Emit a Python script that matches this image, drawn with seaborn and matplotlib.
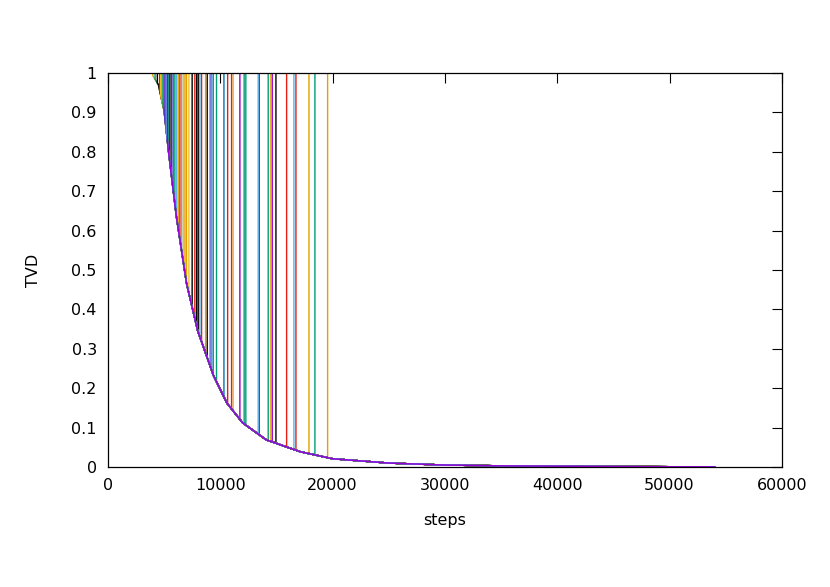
import matplotlib
matplotlib.use("Agg")
import matplotlib.pyplot as plt
import matplotlib.ticker as mticker
import numpy as np
import pandas as pd
import seaborn as sns

# shared decay curve that every run falls onto
curve_steps = [0, 2000, 3000, 3500, 4000, 4500, 4800, 5000, 5400, 6100, 7000,
               8000, 8500, 9400, 10600, 12000, 14100, 17100, 20000, 25000,
               30000, 35000, 40000, 45000, 50000, 54000]
curve_tvd = [1.0, 1.0, 0.999, 0.997, 0.993, 0.97, 0.93, 0.905, 0.80, 0.635,
             0.466, 0.345, 0.305, 0.232, 0.162, 0.112, 0.069, 0.039, 0.021,
             0.010, 0.005, 0.003, 0.002, 0.0013, 0.0008, 0.0005]

# step at which each run leaves TVD ~ 1 and drops onto the curve
drop_steps = [
    4000, 4200, 4400, 4600, 4700, 4800, 4900, 5000, 5100, 5200, 5300,
    5370, 5520, 5670, 5810, 5960, 6110, 6260, 6410, 6560, 6710, 6860, 7000,
    7210, 7500, 7740, 7900, 8040, 8190, 8340, 8700, 8840, 9080, 9170, 9370,
    9670, 10330, 10660, 11010, 11160, 11750, 12130, 12280, 13380, 13470,
    14270, 14510, 14630, 14960, 15910, 16560, 16740, 17900, 18430, 19560,
]

# gnuplot default line colours
gp = {
    "purple": "#9400d3", "teal": "#009e73", "lightblue": "#56b4e9",
    "orange": "#e69f00", "yellow": "#f0c020", "blue": "#0072b2",
    "red": "#e51e10", "black": "#000000",
}
run_colors = [
    "orange", "teal", "black", "red", "yellow", "orange", "teal", "blue",
    "purple", "lightblue", "purple",
    "teal", "black", "purple", "blue", "teal", "lightblue", "orange", "red",
    "lightblue", "yellow", "orange", "orange", "yellow", "black", "red",
    "black", "black", "lightblue", "red", "orange", "black", "lightblue",
    "purple", "blue", "teal",
    "blue", "red", "red", "yellow", "purple", "teal", "teal", "lightblue",
    "purple", "teal", "orange", "purple", "black", "red", "lightblue", "red",
    "orange", "teal", "orange",
]

rows = []
cs = np.array(curve_steps, dtype=float)
cv = np.array(curve_tvd)
for i, d in enumerate(drop_steps):
    label = f"run{i:02d}"
    # flat at 1 until the drop, then straight down onto the curve
    rows.append((label, 0, 1.0))
    rows.append((label, d, 1.0))
    rows.append((label, d, float(np.interp(d, cs, cv))))
    for s, v in zip(curve_steps, curve_tvd):
        if s > d:
            rows.append((label, s, v))
df = pd.DataFrame(rows, columns=["run", "steps", "TVD"])
labels = [f"run{i:02d}" for i in range(len(drop_steps))]
palette = dict(zip(labels, [gp[c] for c in run_colors]))
# runs that follow the curve from the start are drawn last (on top)
order = labels[11:][::-1] + labels[:11]

sns.set_theme(style="white")
plt.rcParams["font.family"] = ["DejaVu Sans"]

fig = plt.figure(figsize=(8.3, 5.87), dpi=100)
ax = fig.add_axes([0.130, 0.2044, 0.812, 0.6712])

sns.lineplot(data=df, x="steps", y="TVD", hue="run", hue_order=order,
             palette=palette, estimator=None, sort=False, legend=False,
             linewidth=1.0, ax=ax)

ax.set_xlim(0, 60000)
ax.set_ylim(0, 1)
ax.set_xticks(np.arange(0, 60001, 10000))
ax.set_yticks(np.arange(0, 1.01, 0.1))
ax.yaxis.set_major_formatter(mticker.FuncFormatter(lambda v, p: f"{v:g}"))
ax.tick_params(direction="in", length=7, width=0.8, color="black",
               top=True, right=True, labelsize=11.5, pad=8,
               labelcolor="black")
for sp in ax.spines.values():
    sp.set_visible(True)
    sp.set_color("black")
    sp.set_linewidth(0.9)

ax.set_xlabel("steps", fontsize=11.5, color="black", labelpad=14)
ax.set_ylabel("TVD", fontsize=11.5, color="black", labelpad=22)

fig.savefig("out.png", dpi=100, facecolor="white")
